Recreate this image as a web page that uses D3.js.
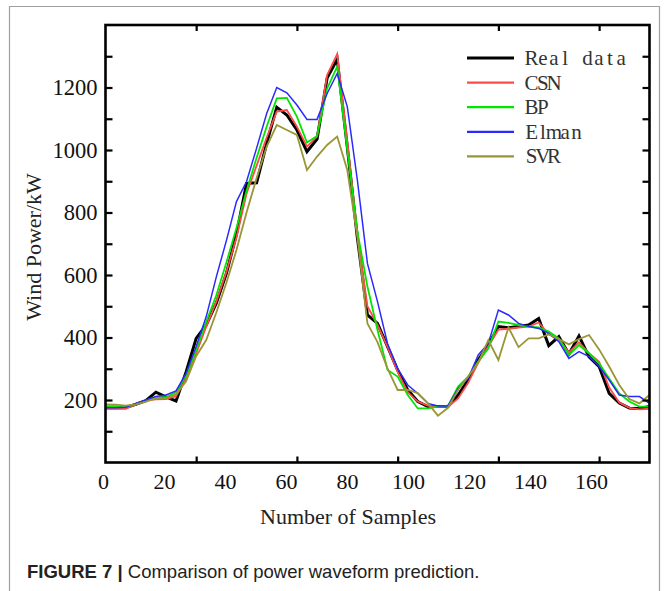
<!DOCTYPE html>
<html><head><meta charset="utf-8">
<script src="https://cdn.jsdelivr.net/npm/d3@7/dist/d3.min.js"></script>
<style>html,body{margin:0;padding:0;background:#fff;}</style>
</head><body>
<svg id="chart" width="664" height="591"></svg>
<script>
// ---- data (55 samples) ----
const realData = [175,175,176,186,198,225,210,197,290,397, 440,510,605,730,893,895,1021,1137,1112,1064, 995,1035,1230,1290,1010,720,472,445,371,296, 232,195,179,179,179,216,264,328,376,435, 431,435,440,461,374,403,347,405,338,307, 221,190,174,173,179];
const csn = [172,172,172,186,198,202,203,212,268,349, 435,515,610,720,860,950,1040,1123,1128,1075, 1011,1043,1240,1307,1030,730,500,440,370,290, 225,195,182,178,178,205,255,320,372,425, 428,432,435,448,410,395,352,385,350,322, 240,192,175,170,172];
const bp = [180,180,178,186,198,209,209,225,278,360, 450,535,640,750,870,975,1075,1165,1167,1107, 1024,1045,1197,1267,1000,740,563,424,296,275, 216,173,173,179,181,243,275,323,365,451, 447,440,435,432,419,397,344,376,349,317, 269,221,195,179,179];
const elman = [175,175,177,189,200,211,216,229,285,371, 467,594,710,835,899,1006,1117,1200,1183,1144, 1098,1098,1181,1245,1139,904,637,515,380,300, 248,221,189,181,181,237,269,344,381,488, 472,445,435,429,413,387,333,355,339,307, 264,216,211,211,189];
const svr = [186,185,182,186,195,205,206,218,260,340, 392,480,575,680,800,910,1011,1080,1064,1048, 936,979,1016,1043,936,723,445,385,300,232, 232,222,190,150,175,232,275,320,392,328, 432,369,397,397,410,395,378,395,408,362, 307,248,203,189,216];
const seriesNames = ["Real data","CSN","BP","Elman","SVR"];
const seriesColors = ["#000000","#ff4a4a","#00e600","#2a2aff","#9a9636"];
const seriesWidths = [3,1.8,1.8,1.5,1.8];
const xTickLabels = [0,20,40,60,80,100,120,140,160];
const xTickMarks = [10,20,30,40,50];
const yTickLabels = [200,400,600,800,1000,1200];
const yTickMinor = [100,300,500,700,900,1100,1300];

const allSeries = [realData, csn, bp, elman, svr];
const idx = d3.range(1, realData.length + 1);

const svg = d3.select("#chart");
const L = 105.5, R = 649.5, T = 25, B = 462.5;

const x = d3.scaleLinear().domain([1, 55]).range([L, R]);
const xLab = d3.scaleLinear().domain([0, 160]).range([103, 591]);
const y = d3.scaleLinear().domain([0, 1400]).range([B, T]);

// outer figure border
svg.append("path").attr("d", "M9.5,591 V6.5 H659.5 V591")
  .attr("fill","none").attr("stroke","#a0a0a0").attr("stroke-width",1.2);

// lines
svg.append("clipPath").attr("id","pc").append("rect")
  .attr("x",L).attr("y",T).attr("width",R-L).attr("height",B-T);
const line = d3.line().x((d,i)=>x(idx[i])).y(d=>y(d));
[0,1,2,3,4].forEach(k=>{
  svg.append("path").datum(allSeries[k])
    .attr("d", line).attr("fill","none")
    .attr("stroke", seriesColors[k]).attr("stroke-width", seriesWidths[k])
    .attr("stroke-linejoin","miter").attr("clip-path","url(#pc)");
});

// axes ticks (inward)
const fontSerif = "'Liberation Serif','Times New Roman',serif";
const gB = svg.append("g").attr("transform",`translate(0,${B})`)
  .call(d3.axisBottom(x).tickValues(xTickMarks).tickSize(-6).tickFormat(""));
const gT = svg.append("g").attr("transform",`translate(0,${T})`)
  .call(d3.axisTop(x).tickValues(xTickMarks).tickSize(-6).tickFormat(""));
const gL = svg.append("g").attr("transform",`translate(${L},0)`)
  .call(d3.axisLeft(y).tickValues(yTickLabels.concat(yTickMinor)).tickSize(-7).tickFormat(""));
const gR = svg.append("g").attr("transform",`translate(${R},0)`)
  .call(d3.axisRight(y).tickValues(yTickLabels.concat(yTickMinor)).tickSize(-7).tickFormat(""));
[gB,gT,gL,gR].forEach(g=>{
  g.select(".domain").remove();
  g.selectAll(".tick line").attr("stroke","#000").attr("stroke-width",2.2);
});
// frame
svg.append("rect").attr("x",L).attr("y",T).attr("width",R-L).attr("height",B-T)
  .attr("fill","none").attr("stroke","#000").attr("stroke-width",2.6);

// tick labels
const gXL = svg.append("g").attr("transform",`translate(0,${B})`)
  .call(d3.axisBottom(xLab).tickValues(xTickLabels).tickSize(0).tickPadding(11).tickFormat(d3.format("d")));
gXL.select(".domain").remove();
gXL.selectAll("text").attr("font-family",fontSerif).attr("font-size",22).attr("fill","#111");

const gYL = svg.append("g").attr("transform",`translate(${L},0)`)
  .call(d3.axisLeft(y).tickValues(yTickLabels).tickSize(0).tickPadding(8).tickFormat(d3.format("d")));
gYL.select(".domain").remove();
gYL.selectAll("text").attr("font-family",fontSerif).attr("font-size",22.5).attr("fill","#111");

// axis titles
svg.append("text").attr("x", 348).attr("y", 524).attr("text-anchor","middle")
  .attr("font-family",fontSerif).attr("font-size",22).attr("fill","#222").text("Number of Samples");
svg.append("text").attr("transform","translate(41,247) rotate(-90)").attr("text-anchor","middle")
  .attr("font-family",fontSerif).attr("font-size",22).attr("fill","#222").text("Wind Power/kW");

// legend (fixed-pitch serif text, each glyph centred in its cell)
const lg = svg.append("g");
seriesNames.forEach((n,k)=>{
  const yy = 58 + k*24.6;
  lg.append("line").attr("x1",467).attr("x2",514).attr("y1",yy).attr("y2",yy)
    .attr("stroke",seriesColors[k]).attr("stroke-width",k===0?3.2:2.2);
  lg.append("text")
    .attr("x", Array.from(n).map((c,j)=>526 + j*11.2 + 5.6).join(" "))
    .attr("text-anchor","middle")
    .attr("y",yy+7).attr("font-family",fontSerif)
    .attr("font-size",21).attr("fill","#333").text(n);
});

// caption
const cap = svg.append("text").attr("x",27).attr("y",578)
  .attr("font-family","'Liberation Sans',Arial,sans-serif").attr("font-size",18.5).attr("fill","#222");
cap.append("tspan").attr("font-weight","bold").text("FIGURE 7 | ");
cap.append("tspan").text("Comparison of power waveform prediction.");
</script>
</body></html>
